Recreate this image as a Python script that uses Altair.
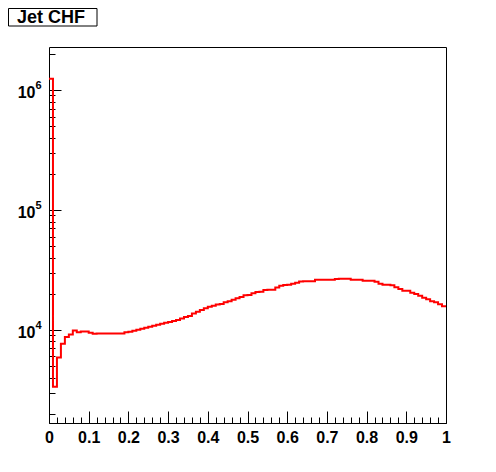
import altair as alt
import pandas as pd

# ---- data (Jet CHF, 100 bins on [0,1]) ----
bin_width = 0.01
counts = [
    1240000, 3360, 5890, 7650, 8700, 9140, 9870, 9570, 9680, 9680,
    9440, 9260, 9300, 9300, 9300, 9300, 9300, 9300, 9300, 9534,
    9625, 9811, 10000, 10193, 10430, 10590, 10795, 11003, 11215, 11475,
    11651, 11875, 12106, 12456, 12818, 13067, 13700, 14186, 14655, 15141,
    15611, 15912, 16300, 16438, 16980, 17309, 17843, 18330, 18790, 19400,
    19520, 20163, 20700, 20788, 21500, 21599, 21600, 22530, 23318, 23700,
    23769, 24228, 24696, 25300, 25364, 25364, 25400, 26100, 26152, 26152,
    26152, 26200, 26600, 26658, 26658, 26658, 26152, 26152, 26152, 25656,
    25656, 25656, 25171, 24228, 23769, 23769, 23496, 22618, 21890, 21190,
    21190, 20393, 19900, 19260, 18535, 17980, 17309, 16980, 16340, 15730,
]
x_major = [0, 0.1, 0.2, 0.3, 0.4, 0.5, 0.6, 0.7, 0.8, 0.9, 1]
x_minor = [0, 0.02, 0.04, 0.06, 0.08, 0.1, 0.12, 0.14, 0.16, 0.18, 0.2, 0.22, 0.24,
           0.26, 0.28, 0.3, 0.32, 0.34, 0.36, 0.38, 0.4, 0.42, 0.44, 0.46, 0.48, 0.5,
           0.52, 0.54, 0.56, 0.58, 0.6, 0.62, 0.64, 0.66, 0.68, 0.7, 0.72, 0.74, 0.76,
           0.78, 0.8, 0.82, 0.84, 0.86, 0.88, 0.9, 0.92, 0.94, 0.96, 0.98, 1]
y_major = [10000, 100000, 1000000]
y_minor = [2000, 3000, 4000, 5000, 6000, 7000, 8000, 9000,
           20000, 30000, 40000, 50000, 60000, 70000, 80000, 90000,
           200000, 300000, 400000, 500000, 600000, 700000, 800000, 900000,
           2000000]
y_domain = [1672, 2282000]
title_text = ["Jet CHF"]

edges = [round(i * bin_width, 2) for i in range(len(counts) + 1)]
df = pd.DataFrame({"x": edges, "y": counts + [counts[-1]]})

FONT = "Liberation Sans"
xs = alt.Scale(domain=[0, 1], nice=False, zero=False)
ys = alt.Scale(type="log", domain=y_domain, nice=False)

minor = alt.Chart(df).mark_line(opacity=0).encode(
    x=alt.X("x:Q", scale=xs, axis=alt.Axis(
        orient="bottom", values=x_minor, tickSize=6, offset=-6, labels=False,
        domain=False, grid=False, title=None, tickColor="black", tickWidth=1)),
    y=alt.Y("y:Q", scale=ys, axis=alt.Axis(
        orient="left", values=y_minor, tickSize=6, offset=-6, labels=False,
        domain=False, grid=False, title=None, tickColor="black", tickWidth=1)),
)

# exponent labels (superscripts of the 10^n tick labels)
expo = alt.Chart(df).mark_line(opacity=0).encode(
    x=alt.X("x:Q", scale=xs, axis=None),
    y=alt.Y("y:Q", scale=ys, axis=alt.Axis(
        orient="left", values=y_major, ticks=False, domain=False, grid=False,
        title=None, labelExpr="format(log(datum.value) / LN10, '.0f')",
        labelFont=FONT, labelFontWeight="bold", labelFontSize=11,
        labelColor="black", labelPadding=8, labelBaseline="middle",
        labelOffset=-4, labelOverlap=False)),
)

hist = alt.Chart(df).mark_line(
    interpolate="step-after", color="#ff0000", strokeWidth=2
).encode(
    x=alt.X("x:Q", scale=xs, axis=alt.Axis(
        orient="bottom", values=x_major, tickSize=12, offset=-12, domain=False,
        grid=False, title=None, tickColor="black", tickWidth=1, format=".1~f",
        labelFont=FONT, labelFontWeight="bold", labelFontSize=16,
        labelColor="black", labelPadding=6, labelFlush=False,
        labelOverlap=False)),
    y=alt.Y("y:Q", scale=ys, axis=alt.Axis(
        orient="left", values=y_major, tickSize=12, offset=-12, domain=False,
        grid=False, title=None, tickColor="black", tickWidth=1,
        labelExpr="'10'",
        labelFont=FONT, labelFontWeight="bold", labelFontSize=16,
        labelColor="black", labelPadding=14, labelBaseline="middle",
        labelOffset=3, labelOverlap=False)),
)

tdf = pd.DataFrame({"t": title_text})
box = alt.Chart(tdf).mark_rect(fill="white", stroke="black", strokeWidth=1).encode(
    x=alt.value(-40.5), x2=alt.value(48), y=alt.value(-38.5), y2=alt.value(-21)
)
txt = alt.Chart(tdf).mark_text(
    font=FONT, fontWeight="bold", fontSize=18, align="center", baseline="middle",
    color="black"
).encode(text="t:N", x=alt.value(2), y=alt.value(-29))

chart = alt.layer(minor, expo, hist, box, txt).resolve_axis(
    x="independent", y="independent"
).properties(
    width=397, height=376,
    padding={"left": 41, "top": 39, "right": 30, "bottom": 30},
    autosize=alt.AutoSizeParams(type="none"),
    background="white",
).configure_view(stroke="black", strokeWidth=1)

chart.save("out.html", embed_options={"renderer": "svg", "actions": False})
